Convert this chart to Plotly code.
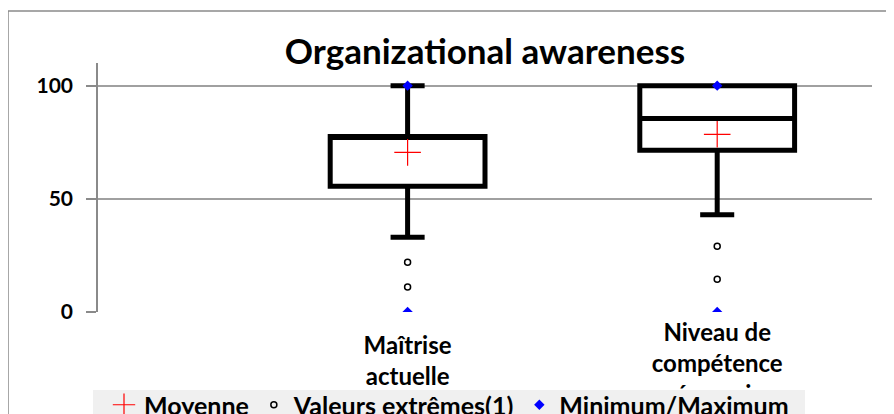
import plotly.graph_objects as go

# categories and box statistics
categories = ["Maîtrise<br>actuelle", "Niveau de<br>compétence<br>nécessaire"]
positions = [1, 2]
q1 = [55.5, 71.5]
median = [77.5, 85.5]
q3 = [77.5, 100]
lower_whisker = [33, 43]
upper_whisker = [100, 100]
mean = [70.5, 78.5]
outlier_x = [1, 1, 2, 2]
outlier_y = [22, 11, 29, 14.5]
minimum = [0, 0]
maximum = [100, 100]

FONT = "Lato, 'Open Sans', sans-serif"
LABEL_FONT = dict(family=FONT, size=24, weight="bold", color="black")

fig = go.Figure()

fig.add_trace(go.Box(
    x=positions,
    q1=q1, median=median, q3=q3,
    lowerfence=lower_whisker, upperfence=upper_whisker,
    width=0.5, whiskerwidth=0.22,
    line=dict(color="black", width=5),
    fillcolor="rgba(0,0,0,0)",
    boxpoints=False,
    showlegend=False,
    hoverinfo="skip",
))

fig.add_trace(go.Scatter(
    x=positions, y=mean, mode="markers", name="Moyenne",
    marker=dict(symbol="cross-thin", size=19, line=dict(color="red", width=1.2), color="red"),
))

fig.add_trace(go.Scatter(
    x=outlier_x, y=outlier_y, mode="markers", name="Valeurs extrêmes(1)",
    marker=dict(symbol="circle-open", size=6, color="black", line=dict(width=1.5)),
))

fig.add_trace(go.Scatter(
    x=positions + positions, y=minimum + maximum, mode="markers", name="Minimum/Maximum",
    marker=dict(symbol="diamond", size=8, color="#0000ff"),
))

# empty trace so the second x axis (two-line label, sits lower) gets drawn
fig.add_trace(go.Scatter(x=[], y=[], xaxis="x2", showlegend=False, hoverinfo="skip"))

fig.update_layout(
    width=886, height=406,
    margin=dict(l=90, r=22, t=55, b=102, autoexpand=False),
    paper_bgcolor="white", plot_bgcolor="white",
    font=dict(family=FONT, size=21, color="black", weight="bold"),
    title=dict(
        text="Organizational awareness",
        font=dict(family=FONT, size=35, color="black", weight="bold"),
        x=0.5, xref="paper", xanchor="center",
        y=1 - 44 / 406, yref="container", yanchor="middle",
    ),
    xaxis=dict(
        range=[0, 2.5], tickvals=positions[1:], ticktext=categories[1:],
        showgrid=False, zeroline=False, showline=False, ticks="",
        ticklabelstandoff=4, tickfont=LABEL_FONT,
    ),
    xaxis2=dict(
        range=[0, 2.5], tickvals=positions[:1], ticktext=categories[:1],
        overlaying="x", anchor="y", side="bottom",
        showgrid=False, zeroline=False, showline=False, ticks="",
        ticklabelstandoff=17, tickfont=LABEL_FONT,
    ),
    yaxis=dict(
        range=[0, 110], tickvals=[0, 50, 100],
        showgrid=True, gridcolor="#a0a0a0", gridwidth=2,
        zeroline=False,
        showline=True, linecolor="#8a8a8a", linewidth=1.5,
        ticks="outside", ticklen=10, tickcolor="#8a8a8a", tickwidth=1.5,
        ticklabelstandoff=9,
        tickfont=dict(family=FONT, size=21, weight="bold"),
    ),
    legend=dict(
        orientation="h", x=(96 - 90) / 774, xanchor="left",
        y=(304 - 374) / 249, yanchor="top",
        bgcolor="rgba(0,0,0,0)",
        font=dict(family=FONT, size=25, weight="bold"),
    ),
    shapes=[
        dict(
            type="rect", xref="paper", yref="paper",
            x0=(0 - 90) / 774, x1=(900 - 90) / 774,
            y0=(304 - 430) / 249, y1=1 + (55 - 3) / 249,
            line=dict(color="#8a8a8a", width=1.5), layer="below",
        ),
        # grey legend band, drawn over the cut-off axis labels
        dict(
            type="rect", xref="paper", yref="paper",
            x0=(85 - 90) / 774, x1=(797 - 90) / 774,
            y0=(304 - 430) / 249, y1=(304 - 382) / 249,
            fillcolor="#f0f0f0", line=dict(width=0), layer="above",
        ),
    ],
)

fig.write_html("out.html")
